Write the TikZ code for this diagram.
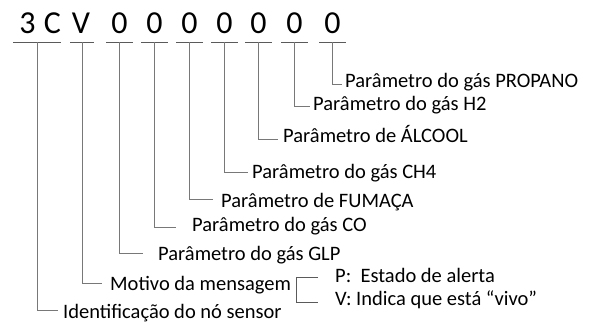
\documentclass[tikz,border=0pt]{standalone}
\usepackage{fontspec}
\setmainfont{Carlito}
\begin{document}
\begin{tikzpicture}[x=1pt,y=-1pt,
  lbl/.style={anchor=base west,inner sep=0pt,font=\fontsize{20.5}{24}\selectfont},
  chr/.style={anchor=base,inner sep=0pt,font=\fontsize{32}{36}\selectfont},
  ln/.style={draw={rgb,255:red,120;green,120;blue,120},line width=1pt},
  ul/.style={draw={rgb,255:red,90;green,90;blue,90},line width=1pt}]
\useasboundingbox (0,0) rectangle (589,322);
% top characters
\node[chr] (k3) at (27.5,33.5) {3};
\node[chr] (kC) at (52.5,33.5) {C};
\node[chr] (kV) at (81,33.5) {V};
\node[chr] (k1) at (119.5,33.5) {0};
\node[chr] (k2) at (154.5,33.5) {0};
\node[chr] (k4) at (189.5,33.5) {0};
\node[chr] (k5) at (224.5,33.5) {0};
\node[chr] (k6) at (258.5,33.5) {0};
\node[chr] (k7) at (294.5,33.5) {0};
\node[chr] (k8) at (332.5,33.5) {0};
% underline anchor points
\coordinate (u0) at (37,42);
\coordinate (uV) at (82,42);
\coordinate (u1) at (119,42);
\coordinate (u2) at (154,42);
\coordinate (u4) at (189,42);
\coordinate (u5) at (224,42);
\coordinate (u6) at (258,42);
\coordinate (u7) at (294,42);
\coordinate (u8) at (332,42);
\draw[ul] ([xshift=-24pt]u0) -- ([xshift=24pt]u0);
\draw[ul] ([xshift=-12pt]uV) -- ([xshift=12pt]uV);
\foreach \u in {u1,u2,u4,u5,u6,u7,u8}
  \draw[ul] ([xshift=-13pt]\u) -- ([xshift=14pt]\u);
% labels
\node[lbl] (lProp) at (345,87) {Parâmetro do gás PROPANO};
\node[lbl] (lH2) at (313,110) {Parâmetro do gás H2};
\node[lbl] (lAlc) at (283,142) {Parâmetro de ÁLCOOL};
\node[lbl] (lCH4) at (252,178) {Parâmetro do gás CH4};
\node[lbl] (lFum) at (221,207) {Parâmetro de FUMAÇA};
\node[lbl] (lCO) at (192,231) {Parâmetro do gás CO};
\node[lbl] (lGLP) at (158,260) {Parâmetro do gás GLP};
\node[lbl] (lMot) at (110,290) {Motivo da mensagem};
\node[lbl] (lId) at (63,318) {Identificação do nó sensor};
\node[lbl] (lP) at (335,282) {P:\ \ Estado de alerta};
\node[lbl] (lV) at (335,305) {V: Indica que está “vivo”};
% connectors
\draw[ln] (u8) |- ([xshift=-3pt,yshift=3pt]lProp.base west);
\draw[ln] (u7) |- ([xshift=-3pt,yshift=4pt]lH2.base west);
\draw[ln] (u6) |- ([xshift=-5pt,yshift=3pt]lAlc.base west);
\draw[ln] (u5) |- ([xshift=-4pt,yshift=6pt]lCH4.base west);
\draw[ln] (u4) |- ([xshift=-8pt,yshift=8pt]lFum.base west);
\draw[ln] (u2) |- ([xshift=-16pt,yshift=4pt]lCO.base west);
\draw[ln] (u1) |- ([xshift=-15pt,yshift=7pt]lGLP.base west);
\draw[ln] (uV) |- ([xshift=-8pt,yshift=7pt]lMot.base west);
\draw[ln] (u0) |- ([xshift=-5pt,yshift=8pt]lId.base west);
% bracket
\draw[ul] ([xshift=-17pt,yshift=5pt]lP.base west) -- ++(-22,0) |- ([xshift=-17pt,yshift=3pt]lV.base west);
\end{tikzpicture}
\end{document}
